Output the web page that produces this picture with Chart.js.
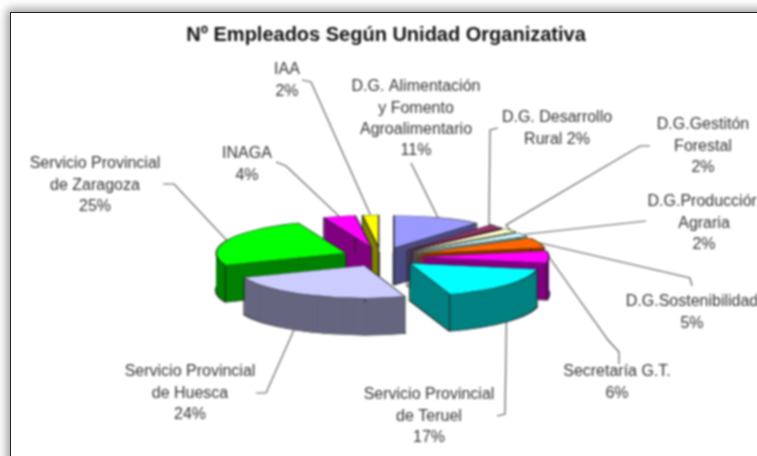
<!doctype html>
<html lang="es">
  <head>
    <meta charset="utf-8">
    <title>Nº Empleados Según Unidad Organizativa</title>
    <style>
      * { margin: 0; padding: 0; }
      body { width: 757px; height: 456px; overflow: hidden; background: #fff; position: relative; }
      .frame {
        position: absolute; left: 10px; top: 12px; width: 820px; height: 520px;
        border: 1px solid #222; background: #fff;
        box-shadow: -3px -3px 9px rgba(0,0,0,.4);
      }
      #chart { position: absolute; left: 0; top: 0; filter: blur(.8px); }
    </style>
  </head>
  <body>
    <div class="frame"></div>
    <canvas id="chart" width="757" height="456"></canvas>
    <script src="https://cdn.jsdelivr.net/npm/chart.js"></script>
    <script>
    const categories = ['D.G. Alimentación y Fomento Agroalimentario', 'D.G. Desarrollo Rural', 'D.G.Gestitón Forestal',
      'D.G.Producción Agraria', 'D.G.Sostenibilidad', 'Secretaría G.T.', 'Servicio Provincial de Teruel',
      'Servicio Provincial de Huesca', 'Servicio Provincial de Zaragoza', 'INAGA', 'IAA'];
    const percents = [11, 2, 2, 2, 5, 6, 17, 24, 25, 4, 2];
    const labelLines = [
      ['D.G. Alimentación', 'y Fomento', 'Agroalimentario', '11%'],
      ['D.G. Desarrollo', 'Rural 2%'],
      ['D.G.Gestitón', 'Forestal', '2%'],
      ['D.G.Producción', 'Agraria', '2%'],
      ['D.G.Sostenibilidad', '5%'],
      ['Secretaría G.T.', '6%'],
      ['Servicio Provincial', 'de Teruel', '17%'],
      ['Servicio Provincial', 'de Huesca', '24%'],
      ['Servicio Provincial', 'de Zaragoza', '25%'],
      ['INAGA', '4%'],
      ['IAA', '2%']
    ];

    // styles
    const topColors = ['#9999FF', '#993366', '#FFFFCC', '#CCFFFF', '#FF6600', '#FF00FF', '#00FFFF', '#CCCCFF', '#00FF00', '#FF00FF', '#FFFF00'];
    const wallColors = ['#4C4C80', '#4C1933', '#808066', '#668080', '#803300', '#800080', '#008080', '#666680', '#008000', '#800080', '#808000'];

    // layout of the tilted pie
    const pieX = 381, pieY = 257, tilt = 0.25, depth = 37, explode = 38;

    // label centres (x, first line y) and the bent part of each leader line
    const labelPos = [[416, 87], [557, 118], [703, 125], [704, 202], [692, 302], [617, 372], [429, 395], [190, 372], [95, 164], [247, 154], [287, 70]];
    const leaders = [
      [[411, 163]],
      [[498, 128], [490, 130], [489, 224]],
      [[650, 146], [640, 146], [506, 225]],
      [[646, 221]],
      [[692, 286], [690, 278]],
      [[619, 364], [619, 352], [608, 340]],
      [[497, 416], [505, 414]],
      [[256, 393], [266, 393]],
      [[163, 184], [174, 184]],
      [[276, 162], [286, 166]],
      [[302, 80], [311, 82]]
    ];

    function placeSlice(ctx, arc, drop) {
      const mid = (arc.startAngle + arc.endAngle) / 2;
      ctx.translate(pieX + explode * Math.cos(mid), pieY + drop + tilt * explode * Math.sin(mid));
      ctx.scale(1, tilt);
      ctx.translate(-arc.x, -arc.y);
    }

    const pie3d = {
      id: 'pie3d',
      beforeDatasetDraw(chart, args) {
        const ctx = chart.ctx;
        const arcs = args.meta.data;

        // leader lines first, the slices cover their ends
        ctx.save();
        ctx.strokeStyle = '#5f5f5f';
        ctx.lineWidth = 1.2;
        arcs.forEach((arc, i) => {
          const mid = (arc.startAngle + arc.endAngle) / 2;
          const r = explode + arc.outerRadius;
          ctx.beginPath();
          leaders[i].forEach((p, j) => j ? ctx.lineTo(p[0], p[1]) : ctx.moveTo(p[0], p[1]));
          ctx.lineTo(pieX + r * Math.cos(mid), pieY + tilt * r * Math.sin(mid));
          ctx.stroke();
        });
        ctx.restore();

        // back to front
        const order = arcs.map((a, i) => i).sort((a, b) =>
          Math.sin((arcs[a].startAngle + arcs[a].endAngle) / 2) - Math.sin((arcs[b].startAngle + arcs[b].endAngle) / 2));
        order.forEach(i => {
          const arc = arcs[i];
          const topOptions = arc.options;

          // bottom outline, then the wall over it
          arc.options = Object.assign({}, topOptions, {backgroundColor: wallColors[i], borderWidth: 2.5});
          ctx.save();
          placeSlice(ctx, arc, depth);
          arc.draw(ctx);
          ctx.restore();
          arc.options = Object.assign({}, topOptions, {backgroundColor: wallColors[i], borderWidth: 0});
          for (let d = depth - 0.5; d > 0; d -= 0.5) {
            ctx.save();
            placeSlice(ctx, arc, d);
            arc.draw(ctx);
            ctx.restore();
          }

          // wall edges
          const mid = (arc.startAngle + arc.endAngle) / 2;
          const ax = pieX + explode * Math.cos(mid), ay = pieY + tilt * explode * Math.sin(mid);
          ctx.strokeStyle = '#222';
          ctx.lineWidth = 1;
          [null, arc.startAngle, arc.endAngle].forEach(a => {
            const x = a === null ? ax : ax + arc.outerRadius * Math.cos(a);
            const y = a === null ? ay : ay + tilt * arc.outerRadius * Math.sin(a);
            ctx.beginPath();
            ctx.moveTo(x, y);
            ctx.lineTo(x, y + depth);
            ctx.stroke();
          });

          arc.options = topOptions;
          ctx.save();
          placeSlice(ctx, arc, 0);
          arc.draw(ctx);
          ctx.restore();
        });
        return false;
      },
      afterDraw(chart) {
        const ctx = chart.ctx;
        ctx.save();
        ctx.font = '16px "Liberation Sans"';
        ctx.fillStyle = '#333';
        ctx.textAlign = 'center';
        ctx.textBaseline = 'middle';
        labelLines.forEach((lines, i) => {
          lines.forEach((line, j) => ctx.fillText(line, labelPos[i][0], labelPos[i][1] + j * 21.3));
        });
        ctx.restore();
      }
    };

    new Chart(document.getElementById('chart'), {
      type: 'pie',
      data: {
        labels: categories,
        datasets: [{
          data: percents,
          backgroundColor: topColors,
          borderColor: '#222',
          borderWidth: 1.4,
          radius: 130
        }]
      },
      options: {
        responsive: false,
        animation: false,
        layout: {padding: {left: 15}},
        plugins: {
          legend: {display: false},
          tooltip: {enabled: false},
          title: {
            display: true,
            text: 'Nº Empleados Según Unidad Organizativa',
            color: '#111',
            font: {family: '"Liberation Sans"', size: 20, weight: 'bold'},
            padding: {top: 23, bottom: 10}
          }
        }
      },
      plugins: [pie3d]
    });
    </script>
  </body>
</html>
